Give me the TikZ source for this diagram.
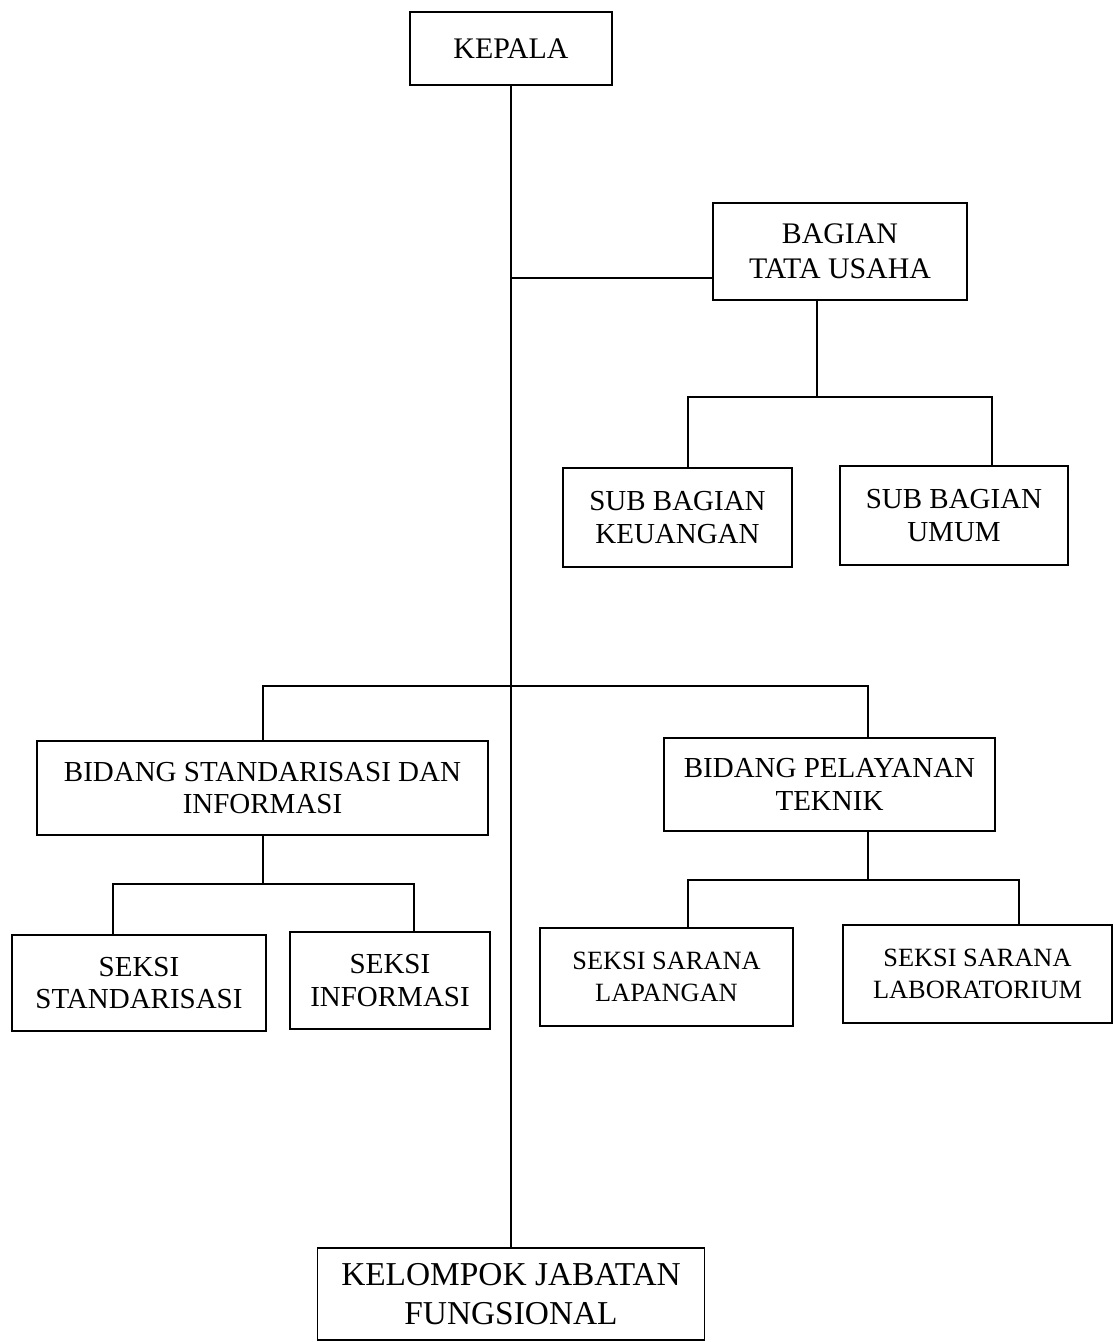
\documentclass[tikz,border=0pt]{standalone}
\usepackage{fontspec}
\setmainfont{Liberation Serif}
\usetikzlibrary{positioning}
\tikzset{unit/.style={draw,line width=1pt,align=center,inner sep=2pt},
size/.style 2 args={minimum width=#1*0.02cm,minimum height=#2*0.02cm},
big/.style={unit,font=\fontsize{17}{20}\selectfont},
mid/.style={unit,font=\fontsize{16.5}{18.5}\selectfont},
seksi/.style={unit,font=\fontsize{15}{18}\selectfont},
group/.style={unit,font=\fontsize{19}{22.5}\selectfont},
link/.style={line width=1.2pt}}

\begin{document}
\begin{tikzpicture}[x=0.02cm,y=-0.02cm]
\useasboundingbox (0,0) rectangle (1113,1342);
% top
\node[big,size={202}{73}](kepala) at (511,48.5){KEPALA};
\node[big,size={254}{97}](tatausaha) at (840,251.5){BAGIAN\\TATA USAHA};
\node[mid,size={229}{99}](keuangan) at (677.5,517.5){SUB BAGIAN\\KEUANGAN};
\node[mid,size={228}{99}](umum) at (954,515.5){SUB BAGIAN\\UMUM};
% bidang
\node[mid,size={451}{94}](bstandar) at (262.5,788){BIDANG STANDARISASI DAN\\INFORMASI};
\node[mid,size={331}{93}](bpelayan) at (829.5,784.5){BIDANG PELAYANAN\\TEKNIK};
\node[mid,size={254}{96}](sstandar) at (139,983){SEKSI\\STANDARISASI};
\node[mid,size={200}{97}](sinfo) at (390,980.5){SEKSI\\INFORMASI};
\node[seksi,size={253}{98}](slapangan) at (666.5,977){SEKSI SARANA\\LAPANGAN};
\node[seksi,size={269}{98}](slab) at (977.5,974){SEKSI SARANA\\LABORATORIUM};
% bottom
\node[group,size={387}{92}](kelompok) at (511,1294){KELOMPOK JABATAN\\FUNGSIONAL};
% main line
\draw[line width=1.5pt](kepala.south)--(kelompok.north);
\coordinate(jtu) at (511,278);
\draw[line width=1.5pt](jtu)--(jtu -| tatausaha.west);
% tata usaha
\coordinate(tu) at (817,397);
\coordinate(tul) at (688,397);
\coordinate(tur) at (992,397);
\draw[link](tu |- tatausaha.south)--(tu);
\draw[link](tul |- keuangan.north)--(tul)--(tur)--(tur |- umum.north);
% bidang bus
\coordinate(bl) at (263,686);
\coordinate(br) at (868,686);
\draw[line width=1.5pt](bl |- bstandar.north)--(bl)--(br)--(br |- bpelayan.north);
% bidang standarisasi
\coordinate(sl) at (113,884);
\coordinate(sm) at (263,884);
\coordinate(sr) at (414,884);
\draw[link](sm |- bstandar.south)--(sm);
\draw[link](sl |- sstandar.north)--(sl)--(sr)--(sr |- sinfo.north);
% bidang pelayanan
\coordinate(pl) at (688,880);
\coordinate(pm) at (868,880);
\coordinate(pr) at (1019,880);
\draw[link](pm |- bpelayan.south)--(pm);
\draw[link](pl |- slapangan.north)--(pl)--(pr)--(pr |- slab.north);
\end{tikzpicture}
\end{document}
